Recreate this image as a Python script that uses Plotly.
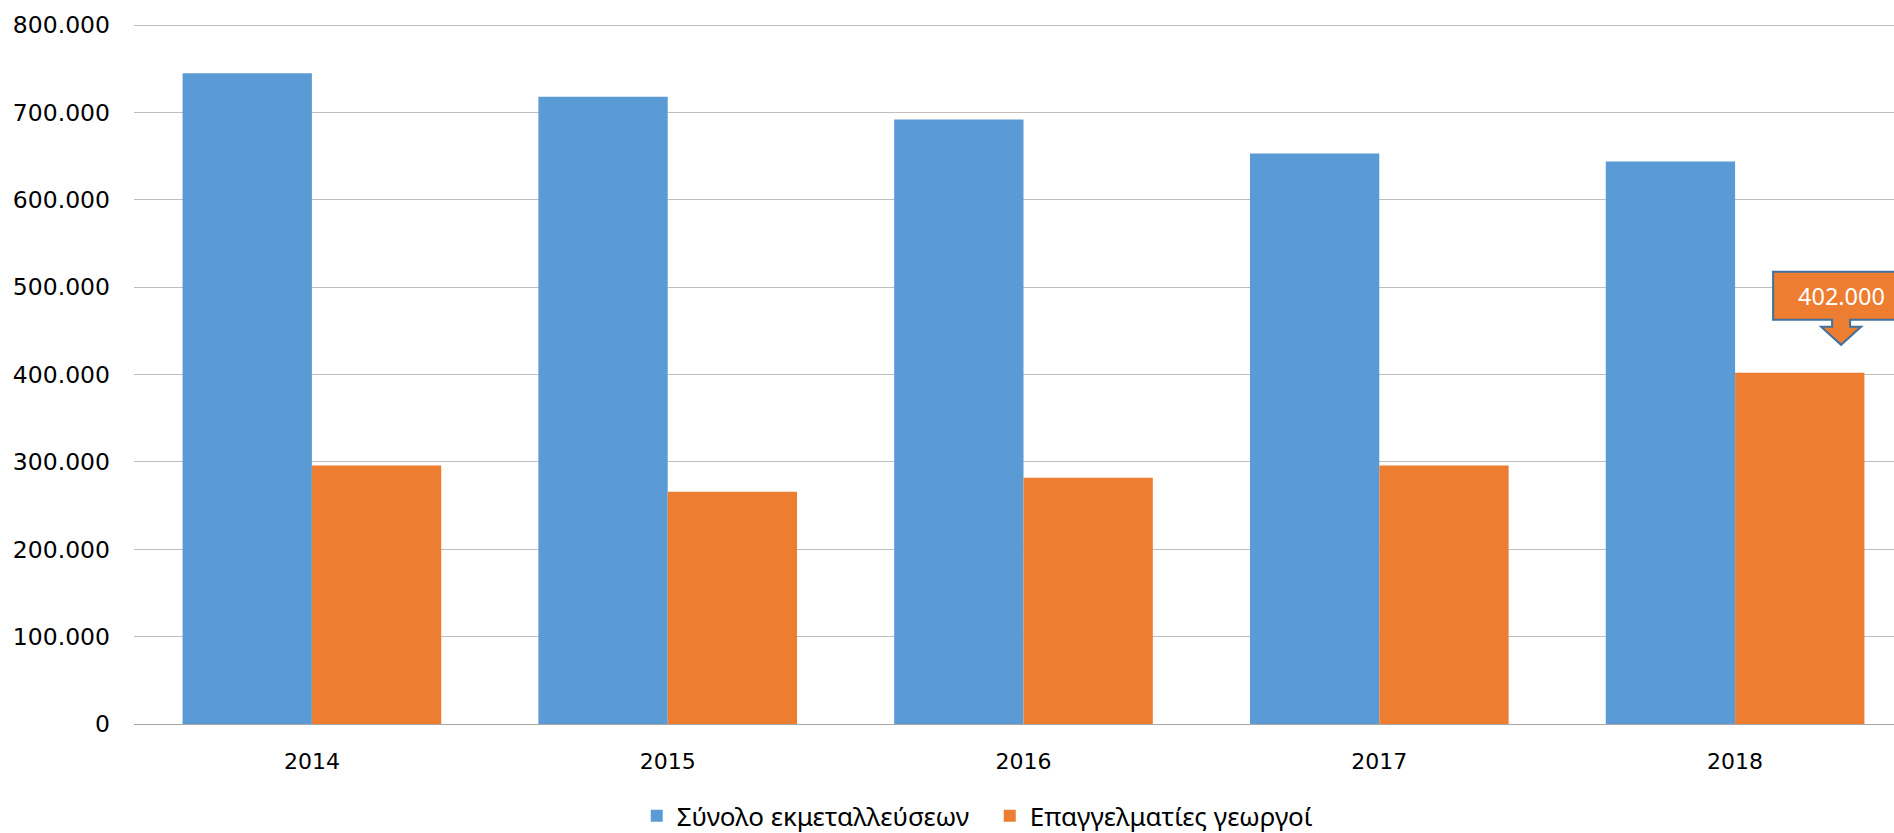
import plotly.graph_objects as go

years = ["2014", "2015", "2016", "2017", "2018"]
total_holdings = [745000, 718000, 692000, 653000, 644000]
professional_farmers = [296000, 266000, 282000, 296000, 402000]
y_ticks = [0, 100000, 200000, 300000, 400000, 500000, 600000, 700000, 800000]
y_tick_labels = ["0", "100.000", "200.000", "300.000", "400.000", "500.000", "600.000", "700.000", "800.000"]
callout_year = "2018"
callout_value = 402000
callout_text = "402.000"

BLUE = "#5B9BD5"
ORANGE = "#ED7D31"
BORDER = "#41719C"

fig = go.Figure()
fig.add_trace(go.Bar(x=years, y=total_holdings, name="Σύνολο εκμεταλλεύσεων",
                     marker=dict(color=BLUE, line=dict(width=0))))
fig.add_trace(go.Bar(x=years, y=professional_farmers, name="Επαγγελματίες γεωργοί",
                     marker=dict(color=ORANGE, line=dict(width=0))))

ci = years.index(callout_year)
# callout box + block arrow, anchored at the bar top in pixel offsets
fig.add_shape(type="path", xref="x", yref="y", xsizemode="pixel", ysizemode="pixel",
              xanchor=ci, yanchor=callout_value,
              path="M 38,101 L 173,101 L 173,53 L 115,53 L 115,46 L 126,46 L 106,28 L 86,46 L 97,46 L 97,53 L 38,53 Z",
              fillcolor=ORANGE, line=dict(color=BORDER, width=2), layer="above")
fig.add_annotation(x=ci, y=callout_value, text=callout_text, showarrow=False,
                   xshift=106, yshift=77, font=dict(family="Noto Sans", size=23.5, color="white"))

fig.update_layout(
    width=1913, height=833,
    margin=dict(l=134, r=0, t=23, b=109, autoexpand=False),
    paper_bgcolor="white", plot_bgcolor="white",
    barmode="group", bargap=0.273, bargroupgap=0,
    showlegend=True,
    legend=dict(orientation="h", x=0.2826, xanchor="left", y=-0.131, yanchor="middle",
                font=dict(family="Noto Sans", size=26, color="#000000"),
                itemwidth=30, tracegroupgap=0, entrywidth=308, entrywidthmode="pixels"),
    font=dict(family="DejaVu Sans", color="#000000"),
)
fig.update_xaxes(type="category", automargin=False, showgrid=False, showline=True,
                 linecolor="#A6A6A6", linewidth=1,
                 ticks="", tickfont=dict(family="DejaVu Sans", size=22, color="#000000"),
                 ticklabelstandoff=18)
fig.update_yaxes(range=[0, 802500], tickvals=y_ticks, ticktext=y_tick_labels, automargin=False,
                 showgrid=True, gridcolor="#BFBFBF", gridwidth=1, zeroline=False,
                 showline=False, ticks="", tickfont=dict(family="DejaVu Sans", size=23.5, color="#000000"),
                 ticklabelstandoff=23)

fig.write_html("out.html", config={"displayModeBar": False},
               post_script="document.body.style.margin='0';document.body.style.overflow='hidden';")
